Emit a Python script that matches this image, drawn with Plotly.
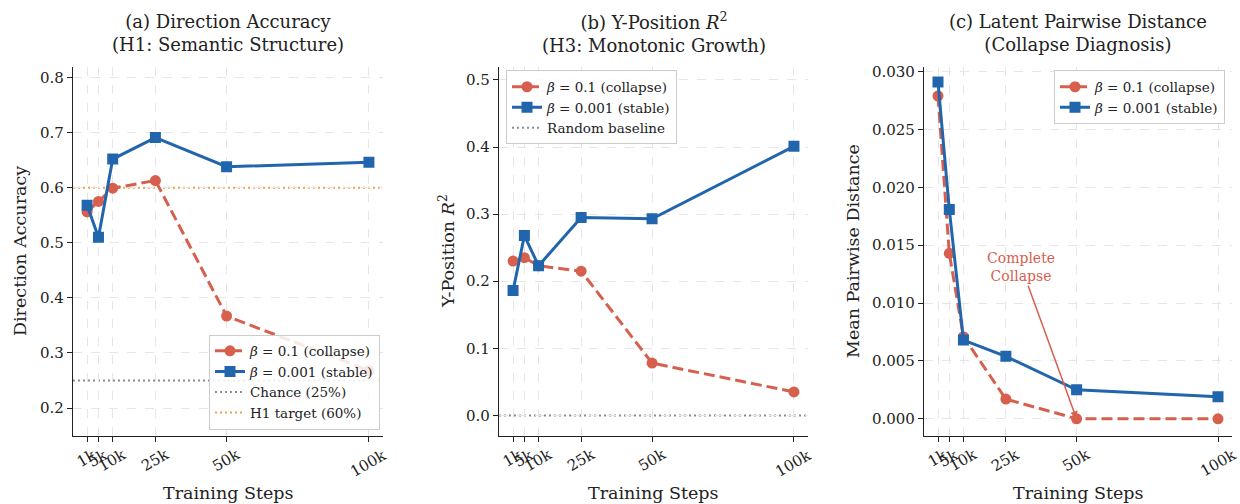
import plotly.graph_objects as go

steps = [1000, 5000, 10000, 25000, 50000, 100000]
step_labels = ["1k", "5k", "10k", "25k", "50k", "100k"]

dir_acc_collapse = [0.556, 0.575, 0.599, 0.613, 0.367, 0.268]
dir_acc_stable = [0.568, 0.510, 0.652, 0.691, 0.638, 0.646]

ypos_r2_collapse = [0.230, 0.235, 0.223, 0.215, 0.078, 0.035]
ypos_r2_stable = [0.186, 0.268, 0.223, 0.295, 0.293, 0.401]

dist_collapse = [0.0279, 0.0143, 0.0071, 0.0017, 0.0, 0.0]
dist_stable = [0.0291, 0.0181, 0.0068, 0.0054, 0.0025, 0.0019]

chance_level = 0.25
h1_target = 0.60
random_baseline = 0.0

RED = "#d6604d"
BLUE = "#2166ac"
GRAY = "#8c8c8c"
ORANGE = "#f4a04a"
FONT = "DejaVu Serif"

W, H = 1240, 504
areas = [(73, 383), (499, 808), (924, 1232)]
top_px, bot_px = 63, 435

fig = go.Figure()

xr = [-3950, 104950]
yranges = [[0.150, 0.820], [-0.030, 0.520], [-0.00145, 0.03045]]
ytickvals = [
    [0.2, 0.3, 0.4, 0.5, 0.6, 0.7, 0.8],
    [0.0, 0.1, 0.2, 0.3, 0.4, 0.5],
    [0.0, 0.005, 0.010, 0.015, 0.020, 0.025, 0.030],
]
ytickfmt = [".1f", ".1f", ".3f"]

layout = dict(
    width=W, height=H,
    margin=dict(l=0, r=0, t=0, b=0),
    paper_bgcolor="white", plot_bgcolor="white",
    font=dict(family=FONT, size=15, color="#222"),
    showlegend=True,
)

for i, (l, r) in enumerate(areas):
    sfx = "" if i == 0 else str(i + 1)
    layout["xaxis" + sfx] = dict(
        domain=[l / W, r / W], anchor="y" + sfx, range=xr,
        tickvals=steps, showticklabels=False,
        showgrid=True, gridcolor="#e6e6e6", griddash="dash", gridwidth=1,
        showline=True, linecolor="#222", linewidth=1.2,
        ticks="outside", ticklen=5, tickcolor="#222", zeroline=False,
    )
    layout["yaxis" + sfx] = dict(
        domain=[(H - bot_px) / H, (H - top_px) / H], anchor="x" + sfx,
        range=yranges[i], tickvals=ytickvals[i], tickformat=ytickfmt[i],
        showgrid=True, gridcolor="#e6e6e6", griddash="dash", gridwidth=1,
        showline=True, linecolor="#222", linewidth=1.2,
        ticks="outside", ticklen=5, tickcolor="#222",
        tickfont=dict(size=15, family=FONT), zeroline=False,
    )

fig.update_layout(**layout)

red_lbl = "<i>β</i> = 0.1 (collapse)"
blue_lbl = "<i>β</i> = 0.001 (stable)"
series = [
    (dir_acc_collapse, dir_acc_stable, "legend"),
    (ypos_r2_collapse, ypos_r2_stable, "legend2"),
    (dist_collapse, dist_stable, "legend3"),
]
for i, (rc, bs, lg) in enumerate(series):
    sfx = "" if i == 0 else str(i + 1)
    fig.add_trace(go.Scatter(
        x=steps, y=rc, mode="lines+markers", name=red_lbl,
        line=dict(color=RED, width=3, dash="11px,5px"),
        marker=dict(color=RED, size=11, symbol="circle"),
        xaxis="x" + sfx, yaxis="y" + sfx, legend=lg,
    ))
    fig.add_trace(go.Scatter(
        x=steps, y=bs, mode="lines+markers", name=blue_lbl,
        line=dict(color=BLUE, width=3),
        marker=dict(color=BLUE, size=11, symbol="square"),
        xaxis="x" + sfx, yaxis="y" + sfx, legend=lg,
    ))

fig.add_shape(type="line", xref="x domain", yref="y", x0=0, x1=1,
              y0=chance_level, y1=chance_level,
              line=dict(color=GRAY, width=2, dash="2px,3px"),
              showlegend=True, name="Chance (25%)", legend="legend", layer="below")
fig.add_shape(type="line", xref="x domain", yref="y", x0=0, x1=1,
              y0=h1_target, y1=h1_target,
              line=dict(color=ORANGE, width=2, dash="2px,3px"),
              showlegend=True, name="H1 target (60%)", legend="legend", layer="below")
fig.add_shape(type="line", xref="x2 domain", yref="y2", x0=0, x1=1,
              y0=random_baseline, y1=random_baseline,
              line=dict(color=GRAY, width=2, dash="2px,3px"),
              showlegend=True, name="Random baseline", legend="legend2", layer="below")

leg_common = dict(
    bgcolor="rgba(255,255,255,0.85)", bordercolor="#cccccc", borderwidth=1,
    font=dict(family=FONT, size=13.5, color="#222"),
    itemwidth=30, tracegroupgap=0,
)
fig.update_layout(
    legend=dict(x=380 / W, y=(H - 429) / H, xanchor="right", yanchor="bottom", **leg_common),
    legend2=dict(x=506 / W, y=(H - 67) / H, xanchor="left", yanchor="top", **leg_common),
    legend3=dict(x=1225 / W, y=(H - 67) / H, xanchor="right", yanchor="top", **leg_common),
)

titles = [
    "(a) Direction Accuracy<br>(H1: Semantic Structure)",
    "(b) Y-Position <i>R</i><sup>2</sup><br>(H3: Monotonic Growth)",
    "(c) Latent Pairwise Distance<br>(Collapse Diagnosis)",
]
ylabels = ["Direction Accuracy", "Y-Position <i>R</i><sup>2</sup>", "Mean Pairwise Distance"]
ylabel_x = [20, 447, 853]

anns = []
for i, (l, r) in enumerate(areas):
    sfx = "" if i == 0 else str(i + 1)
    cx = (l + r) / 2 / W
    anns.append(dict(text=titles[i], x=cx, y=1 - 29 / H, xref="paper", yref="paper",
                     showarrow=False, font=dict(family=FONT, size=18, color="#222"),
                     xanchor="center", yanchor="middle"))
    anns.append(dict(text="Training Steps", x=cx, y=1 - 493 / H, xref="paper", yref="paper",
                     showarrow=False, font=dict(family=FONT, size=17.5, color="#222"),
                     xanchor="center", yanchor="middle"))
    anns.append(dict(text=ylabels[i], x=ylabel_x[i] / W, y=1 - ((top_px + bot_px) / 2) / H,
                     xref="paper", yref="paper", textangle=-90,
                     showarrow=False, font=dict(family=FONT, size=17.5, color="#222"),
                     xanchor="center", yanchor="middle"))
    for s, lab in zip(steps, step_labels):
        anns.append(dict(text=lab, x=s, y=1 - 442 / H, xref="x" + sfx, yref="paper",
                         textangle=-30, showarrow=False,
                         font=dict(family=FONT, size=15, color="#222"),
                         xanchor="center", yanchor="top"))

anns.append(dict(
    text="Complete<br>Collapse", x=50000, y=0.0, xref="x3", yref="y3",
    ax=30500, ay=0.0131, axref="x3", ayref="y3",
    showarrow=True, arrowhead=2, arrowsize=1, arrowwidth=1.5, arrowcolor=RED,
    font=dict(family=FONT, size=14, color=RED), standoff=0,
))
fig.update_layout(annotations=anns)

fig.write_html(
    "out.html",
    config={"displayModeBar": False},
    post_script="document.body.style.margin='0';document.body.style.overflow='hidden';",
)
